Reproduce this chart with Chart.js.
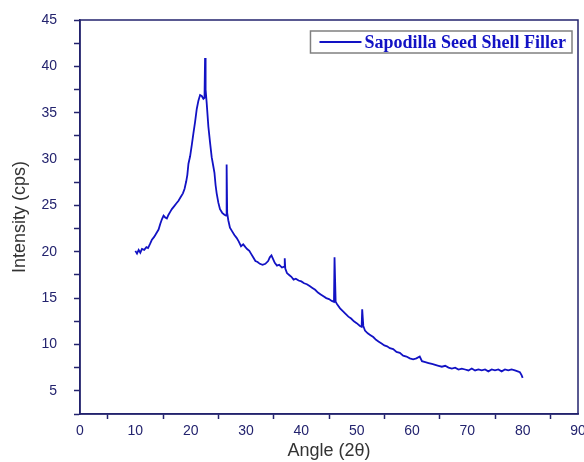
<!DOCTYPE html>
<html>
<head>
<meta charset="utf-8">
<script src="https://cdn.jsdelivr.net/npm/chart.js@4/dist/chart.umd.min.js"></script>
<style>
  html, body { margin: 0; padding: 0; background: #fff; }
  #wrap { width: 584px; height: 462px; }
</style>
</head>
<body>
<div id="wrap"><canvas id="xrdChart"></canvas></div>
<script>
// diffraction angle (2 theta) and intensity
const angles = [
  10.0, 10.3, 10.6, 10.9, 11.2, 11.6, 12.0, 12.3, 12.7, 13.0, 13.4, 13.8, 14.2, 14.5, 14.8,
  15.1, 15.4, 15.7, 16.0, 16.3, 16.6, 17.0, 17.4, 17.8, 18.2, 18.6, 18.9, 19.2, 19.4, 19.6,
  19.9, 20.2, 20.5, 20.8, 21.1, 21.4, 21.7, 22.0, 22.3, 22.5, 22.6, 22.7, 22.9, 23.2, 23.5,
  23.8, 24.1, 24.3, 24.5, 24.7, 25.0, 25.3, 25.7, 26.1, 26.4, 26.5, 26.6, 26.8, 27.1, 27.5,
  27.9, 28.3, 28.7, 29.1, 29.5, 29.9, 30.2, 30.6, 30.9, 31.3, 31.7, 32.1, 32.5, 33.0, 33.5,
  34.0, 34.3, 34.6, 34.9, 35.2, 35.6, 36.0, 36.5, 36.9, 37.0, 37.1, 37.4, 37.8, 38.2, 38.6,
  39.0, 39.5, 40.0, 40.5, 41.0, 41.5, 42.0, 42.5, 43.0, 43.5, 44.0, 44.5, 45.0, 45.5, 45.9,
  46.0, 46.2, 46.5, 47.0, 47.5, 48.0, 48.5, 49.0, 49.5, 50.0, 50.6, 50.9, 51.0, 51.2, 51.5,
  52.0, 52.5, 53.0, 53.5, 54.0, 54.5, 55.0, 55.5, 56.0, 56.6, 57.2, 57.8, 58.4, 59.0, 59.6,
  60.2, 60.8, 61.4, 61.8, 62.4, 63.0, 63.6, 64.2, 64.8, 65.4, 66.0, 66.6, 67.2, 67.8, 68.4,
  69.0, 69.6, 70.2, 70.8, 71.4, 72.0, 72.6, 73.2, 73.8, 74.4, 75.0, 75.6, 76.2, 76.8, 77.4,
  78.0, 78.6, 79.1, 79.5, 79.8, 80.0
];
const intensity = [
  20.1, 19.8, 20.2, 19.9, 20.3, 20.2, 20.5, 20.4, 20.9, 21.3, 21.6, 22.0, 22.4, 23.0, 23.5,
  23.9, 23.7, 23.6, 24.0, 24.3, 24.6, 24.9, 25.2, 25.5, 25.9, 26.3, 26.8, 27.6, 28.3, 29.5,
  30.3, 31.5, 32.8, 34.0, 35.4, 36.3, 36.9, 36.8, 36.5, 36.6, 40.9, 37.5, 36.0, 33.5, 31.8,
  30.2, 29.2, 28.5, 27.2, 26.3, 25.3, 24.6, 24.2, 24.0, 23.9, 29.4, 24.2, 23.4, 22.6, 22.2,
  21.8, 21.5, 21.1, 20.6, 20.8, 20.5, 20.3, 20.1, 19.8, 19.4, 19.0, 18.9, 18.7, 18.6, 18.7,
  19.0, 19.4, 19.6, 19.2, 18.8, 18.5, 18.6, 18.3, 18.4, 19.3, 18.2, 17.7, 17.5, 17.3, 17.0,
  17.1, 16.9, 16.8, 16.6, 16.5, 16.3, 16.1, 15.9, 15.6, 15.4, 15.2, 15.0, 14.9, 14.7, 14.6,
  19.4, 14.6, 14.3, 13.9, 13.6, 13.3, 13.0, 12.8, 12.5, 12.3, 12.0, 11.9, 13.8, 12.0, 11.5,
  11.2, 11.0, 10.8, 10.5, 10.3, 10.1, 9.9, 9.8, 9.6, 9.5, 9.2, 9.1, 8.8, 8.7, 8.5,
  8.4, 8.5, 8.7, 8.2, 8.1, 8.0, 7.9, 7.8, 7.7, 7.6, 7.7, 7.5, 7.4, 7.5, 7.3,
  7.4, 7.3, 7.2, 7.4, 7.2, 7.3, 7.2, 7.3, 7.1, 7.3, 7.2, 7.3, 7.1, 7.3, 7.2,
  7.3, 7.2, 7.1, 7.0, 6.7, 6.4
];
const seriesLabel = 'Sapodilla Seed Shell Filler';

const navy = '#23236e';
const lineBlue = '#1212c4';
const sans = '"Liberation Sans", Arial, sans-serif';

// frame round the plot area plus the boxed legend in the top right corner
const frameAndLegend = {
  id: 'frameAndLegend',
  afterDraw(chart) {
    const { ctx, chartArea } = chart;
    ctx.save();
    ctx.strokeStyle = navy;
    ctx.lineWidth = 1.5;
    ctx.strokeRect(chartArea.left, chartArea.top, chartArea.right - chartArea.left, chartArea.bottom - chartArea.top);

    const ds = chart.data.datasets[0];
    ctx.font = 'bold 18px "Liberation Serif", "Times New Roman", serif';
    const textW = ctx.measureText(ds.label).width;
    const boxW = textW + 60;
    const boxH = 22;
    const boxX = chartArea.right - 6 - boxW;
    const boxY = chartArea.top + 11;
    ctx.strokeStyle = '#808080';
    ctx.lineWidth = 1.5;
    ctx.strokeRect(boxX, boxY, boxW, boxH);
    ctx.strokeStyle = ds.borderColor;
    ctx.lineWidth = 2;
    ctx.beginPath();
    ctx.moveTo(boxX + 9, boxY + boxH / 2);
    ctx.lineTo(boxX + 51, boxY + boxH / 2);
    ctx.stroke();
    ctx.fillStyle = ds.borderColor;
    ctx.textBaseline = 'middle';
    ctx.fillText(ds.label, boxX + 54, boxY + boxH / 2 + 1);
    ctx.restore();
  }
};

new Chart(document.getElementById('xrdChart').getContext('2d'), {
  type: 'scatter',
  data: {
    datasets: [{
      label: seriesLabel,
      data: angles.map((a, i) => ({ x: a, y: intensity[i] })),
      showLine: true,
      borderColor: lineBlue,
      borderWidth: 1.8,
      pointRadius: 0,
      tension: 0
    }]
  },
  options: {
    responsive: true,
    maintainAspectRatio: false,
    animation: false,
    layout: { padding: { top: 20, right: 6, left: 4, bottom: 0 } },
    plugins: {
      legend: { display: false },
      tooltip: { enabled: false }
    },
    scales: {
      x: {
        type: 'linear',
        min: 0,
        max: 90,
        afterFit: (scale) => {
          scale.height = 48;
          scale.paddingLeft = 0;
          scale.paddingRight = 0;
        },
        ticks: {
          stepSize: 5,
          autoSkip: false,
          maxRotation: 0,
          padding: 4,
          color: navy,
          font: { family: sans, size: 14 },
          callback: (v) => (v % 10 === 0 ? v : '')
        },
        grid: {
          drawOnChartArea: false,
          drawTicks: true,
          tickLength: 5,
          tickWidth: 1.5,
          tickColor: (c) => (c.tick && c.tick.value % 10 === 0 ? 'rgba(0,0,0,0)' : navy)
        },
        border: { display: true, color: navy, width: 1.5 },
        title: {
          display: true,
          text: 'Angle (2θ)',
          color: '#333',
          font: { family: sans, size: 18 },
          padding: { top: 0, bottom: 0 }
        }
      },
      y: {
        min: 2.5,
        max: 45,
        afterFit: (scale) => {
          scale.width = 76;
          scale.paddingTop = 0;
          scale.paddingBottom = 0;
        },
        ticks: {
          stepSize: 2.5,
          autoSkip: false,
          padding: 17,
          color: navy,
          font: { family: sans, size: 14 },
          callback: (v) => (v % 5 === 0 ? v : '')
        },
        grid: {
          drawOnChartArea: false,
          drawTicks: true,
          tickLength: 6,
          tickWidth: 1.5,
          tickColor: navy
        },
        border: { display: true, color: navy, width: 1.5 },
        title: {
          display: true,
          text: 'Intensity (cps)',
          color: '#333',
          font: { family: sans, size: 18 },
          padding: { top: 5, bottom: 0 }
        }
      }
    }
  },
  plugins: [frameAndLegend]
});
</script>
</body>
</html>
